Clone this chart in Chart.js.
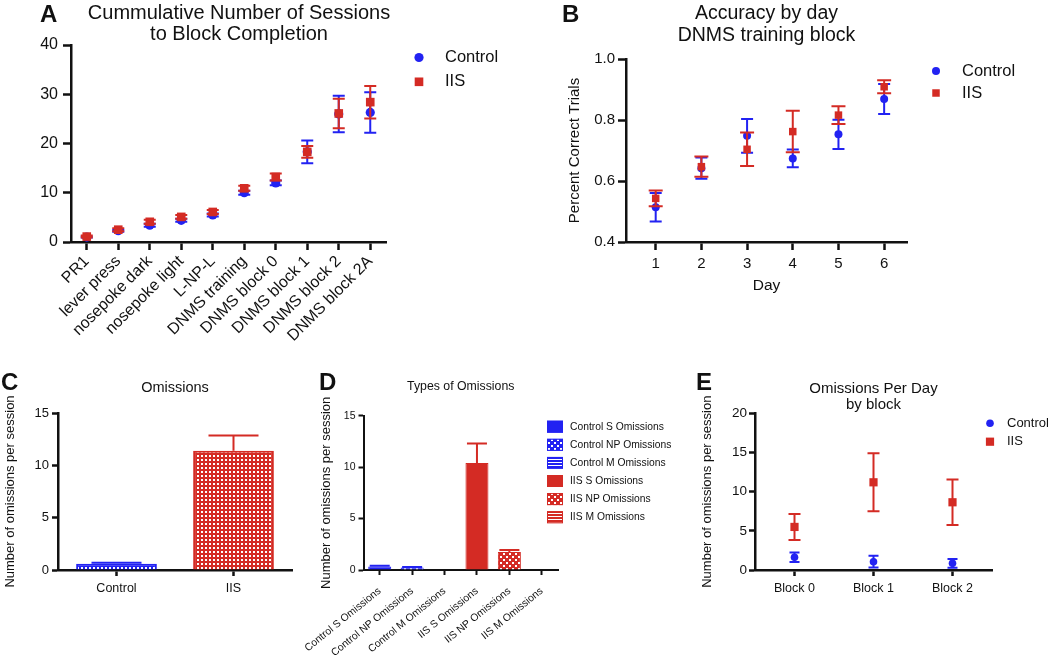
<!DOCTYPE html>
<html>
<head>
<meta charset="utf-8">
<script src="https://cdn.jsdelivr.net/npm/chart.js@4.4.1/dist/chart.umd.min.js"></script>
<style>
  html, body { margin: 0; padding: 0; background: #fff; }
  #fig { position: relative; width: 1050px; height: 657px; overflow: hidden; }
  #fig canvas { position: absolute; }
  .tag { position: absolute; font: bold 24px "Liberation Sans", Arial, sans-serif; line-height: 24px; color: #111; }
</style>
</head>
<body>
<div id="fig">
  <canvas id="chartA" width="510" height="350" style="left:0;top:0"></canvas>
  <canvas id="chartB" width="510" height="310" style="left:540px;top:0"></canvas>
  <canvas id="chartC" width="330" height="240" style="left:0;top:370px"></canvas>
  <canvas id="chartD" width="385" height="287" style="left:290px;top:370px"></canvas>
  <canvas id="chartE" width="360" height="250" style="left:690px;top:370px"></canvas>
  <div class="tag" style="left:40px;top:2px">A</div>
  <div class="tag" style="left:562px;top:2px">B</div>
  <div class="tag" style="left:1px;top:370px">C</div>
  <div class="tag" style="left:319px;top:370px">D</div>
  <div class="tag" style="left:696px;top:370px">E</div>
</div>
<script>
// A: cumulative number of sessions to block completion
var stagesA = ['PR1', 'lever press', 'nosepoke dark', 'nosepoke light', 'L-NP-L', 'DNMS training',
  'DNMS block 0', 'DNMS block 1', 'DNMS block 2', 'DNMS block 2A'];
var controlA = [1.0, 2.3, 3.4, 4.4, 5.5, 10.0, 12.0, 18.3, 26.0, 26.3];
var controlErrA = [0.1, 0.2, 0.3, 0.3, 0.3, 0.4, 0.5, 2.3, 3.7, 4.1];
var iisA = [1.1, 2.5, 4.1, 5.1, 6.1, 10.9, 13.2, 18.3, 26.1, 28.4];
var iisErrA = [0.2, 0.3, 0.4, 0.4, 0.4, 0.5, 0.7, 1.2, 3.0, 3.3];

// B: accuracy by day, DNMS training block
var days = [1, 2, 3, 4, 5, 6];
var controlB = [0.514, 0.642, 0.748, 0.674, 0.753, 0.869];
var controlErrB = [0.047, 0.035, 0.055, 0.029, 0.048, 0.049];
var iisB = [0.543, 0.647, 0.704, 0.762, 0.816, 0.909];
var iisErrB = [0.026, 0.033, 0.055, 0.068, 0.029, 0.021];

// C: omissions
var groupsC = ['Control', 'IIS'];
var omissionsC = [0.6, 11.4];
var omissionsErrC = [0.1, 1.45];

// D: types of omissions
var typesD = ['Control S Omissions', 'Control NP Omissions', 'Control M Omissions',
  'IIS S Omissions', 'IIS NP Omissions', 'IIS M Omissions'];
var omissionsD = [0.35, 0.25, 0, 10.4, 1.75, 0.05];
var omissionsErrD = [0.06, 0.04, 0, 1.9, 0.2, 0];

// E: omissions per day by block
var blocksE = ['Block 0', 'Block 1', 'Block 2'];
var controlE = [1.62, 1.06, 0.85];
var controlErrE = [0.6, 0.75, 0.55];
var iisE = [5.5, 11.2, 8.65];
var iisErrE = [1.66, 3.7, 2.9];

var FONT = '"Liberation Sans", Arial, Helvetica, sans-serif';
var INK = '#111';
var BLUE = '#2222f2';
var RED = '#d42b24';

Chart.defaults.font.family = FONT;
Chart.defaults.color = INK;
Chart.defaults.animation = false;
Chart.defaults.responsive = false;
Chart.defaults.plugins.legend.display = false;
Chart.defaults.plugins.tooltip.enabled = false;

// small fill patterns for the bars
function pattern(color, kind) {
  var c = document.createElement('canvas');
  var g = c.getContext('2d');
  if (kind === 'lines') {
    c.width = 4; c.height = 3;
    g.fillStyle = color; g.fillRect(0, 0, 4, 3);
    g.fillStyle = '#fff'; g.fillRect(0, 2, 4, 1);
  } else if (kind === 'check') {
    c.width = 6; c.height = 6;
    g.fillStyle = color; g.fillRect(0, 0, 6, 6);
    g.fillStyle = '#fff'; g.fillRect(0, 0, 2, 2); g.fillRect(3, 3, 2, 2);
  } else {
    c.width = 4; c.height = 4;
    g.fillStyle = color; g.fillRect(0, 0, 4, 4);
    g.fillStyle = '#fff'; g.fillRect(1, 1, 2, 2);
  }
  return g.createPattern(c, 'repeat');
}

// mean +/- error bars, drawn just before each dataset's own marks
var errorBars = {
  id: 'errorBars',
  beforeDatasetDraw: function (chart, args) {
    var ds = chart.data.datasets[args.index];
    if (!ds.errors) return;
    var yScale = chart.scales[args.meta.yAxisID];
    var ctx = chart.ctx;
    ctx.save();
    ctx.lineWidth = ds.errorWidth || 2;
    args.meta.data.forEach(function (el, i) {
      var raw = ds.data[i];
      var v = raw !== null && typeof raw === 'object' ? raw.y : raw;
      var e = ds.errors[i];
      if (v === null || v === undefined || !e) return;
      var hi = yScale.getPixelForValue(v + e);
      var lo = yScale.getPixelForValue(ds.upOnly ? v : v - e);
      var c = ds.capHalf || 6;
      ctx.strokeStyle = Array.isArray(ds.borderColor) ? ds.borderColor[i] : ds.borderColor;
      ctx.beginPath();
      ctx.moveTo(el.x, hi); ctx.lineTo(el.x, lo);
      ctx.moveTo(el.x - c, hi); ctx.lineTo(el.x + c, hi);
      if (!ds.upOnly) { ctx.moveTo(el.x - c, lo); ctx.lineTo(el.x + c, lo); }
      ctx.stroke();
    });
    ctx.restore();
  }
};

// legend placed freely beside the plot, like the Prism layout
var sideLegend = {
  id: 'sideLegend',
  afterDraw: function (chart, args, o) {
    if (!o || o.x === undefined) return;
    var ctx = chart.ctx;
    ctx.save();
    chart.data.datasets.forEach(function (ds, i) {
      var y = o.y + i * o.gap;
      ctx.fillStyle = ds.backgroundColor;
      if (o.box) {
        ctx.fillRect(o.x, y - o.box[1] / 2, o.box[0], o.box[1]);
        ctx.strokeStyle = ds.borderColor;
        ctx.lineWidth = 1;
        ctx.strokeRect(o.x + 0.5, y - o.box[1] / 2 + 0.5, o.box[0] - 1, o.box[1] - 1);
      } else {
        Chart.helpers.drawPoint(ctx, { pointStyle: ds.pointStyle, radius: ds.pointRadius, borderWidth: 0 }, o.x, y);
      }
      ctx.fillStyle = INK;
      ctx.font = o.size + 'px ' + FONT;
      ctx.textBaseline = 'middle';
      ctx.fillText(ds.label, o.textX, y);
    });
    ctx.restore();
  }
};

function prismAxis(size, opts) {
  var a = {
    border: { color: INK, width: 2.5 },
    grid: { drawOnChartArea: false, offset: false, tickColor: INK, tickLength: 7, tickWidth: 2.5 },
    ticks: { color: INK, font: { size: size }, padding: 4, autoSkip: false }
  };
  Object.keys(opts || {}).forEach(function (k) {
    var v = opts[k];
    a[k] = (v && typeof v === 'object' && a[k]) ? Object.assign({}, a[k], v) : v;
  });
  return a;
}

function panelTitle(lines, size, lineHeight, top, bottom) {
  return {
    display: true, fullSize: false, text: lines, color: INK,
    font: { size: size, weight: 'normal', lineHeight: lineHeight },
    padding: { top: top, bottom: bottom }
  };
}

function pointSet(label, values, errors, color, style, radius, order, cap) {
  return {
    label: label, data: values, errors: errors, capHalf: cap, order: order,
    showLine: false, clip: false,
    backgroundColor: color, borderColor: color,
    pointStyle: style, pointRadius: radius, pointBorderWidth: 0,
    pointBackgroundColor: color
  };
}

// ---- A ----
var titleA = panelTitle(['Cummulative Number of Sessions', 'to Block Completion'], 20, 1.05, 3, 0);
titleA.fullSize = true;
new Chart('chartA', {
  type: 'line',
  data: {
    labels: stagesA,
    datasets: [
      pointSet('Control', controlA, controlErrA, BLUE, 'circle', 4.6, 1, 6),
      pointSet('IIS', iisA, iisErrA, RED, 'rect', 6.1, 0, 6)
    ]
  },
  options: {
    layout: { padding: { left: 0, right: 32, top: 0, bottom: 0 } },
    plugins: {
      title: titleA,
      sideLegend: { x: 419, y: 57.5, gap: 24.3, textX: 445, size: 16.5 }
    },
    scales: {
      x: prismAxis(16, {
        offset: true,
        grid: { tickLength: 8 },
        ticks: { minRotation: 45, maxRotation: 45, padding: 2 },
        afterFit: function (s) { s.height = 108; }
      }),
      y: prismAxis(16, {
        min: 0, max: 40,
        grid: { tickLength: 8 },
        ticks: { stepSize: 10, padding: 5 },
        afterFit: function (s) { s.width = 71; }
      }),
      // empty right-hand spacer so the title centres over plot + legend
      gap: {
        position: 'right', display: true,
        grid: { display: false }, border: { display: false }, ticks: { display: false },
        afterFit: function (s) { s.width = 92; }
      }
    }
  },
  plugins: [errorBars, sideLegend]
});

// ---- B ----
new Chart('chartB', {
  type: 'scatter',
  data: {
    datasets: [
      pointSet('Control', days.map(function (d, i) { return { x: d, y: controlB[i] }; }), controlErrB, BLUE, 'circle', 4, 1, 6),
      pointSet('IIS', days.map(function (d, i) { return { x: d, y: iisB[i] }; }), iisErrB, RED, 'rect', 5.3, 0, 7)
    ]
  },
  options: {
    layout: { padding: { left: 0, right: 143, top: 0, bottom: 0 } },
    plugins: {
      title: panelTitle(['Accuracy by day', 'DNMS training block'], 19.5, 1.1, 3.3, 12.8),
      sideLegend: { x: 396, y: 71, gap: 22, textX: 422, size: 16.5 }
    },
    scales: {
      x: prismAxis(15, {
        type: 'linear', min: 0.35, max: 6.5,
        grid: { tickLength: 8 },
        ticks: { padding: 5 },
        afterBuildTicks: function (s) { s.ticks = days.map(function (d) { return { value: d }; }); },
        title: { display: true, text: 'Day', color: INK, font: { size: 15.5 }, padding: { top: 0, bottom: 15 } },
        afterFit: function (s) { s.height = 68; }
      }),
      y: prismAxis(15, {
        min: 0.4, max: 1.0,
        grid: { tickLength: 8 },
        ticks: { stepSize: 0.2, padding: 3, callback: function (v) { return v.toFixed(1); } },
        title: { display: true, text: 'Percent Correct Trials', color: INK, font: { size: 15 }, padding: { top: 26, bottom: 0 } },
        afterFit: function (s) { s.width = 86; }
      })
    }
  },
  plugins: [errorBars, sideLegend]
});

// ---- C ----
new Chart('chartC', {
  type: 'bar',
  data: {
    labels: groupsC,
    datasets: [{
      data: omissionsC, errors: omissionsErrC, upOnly: true, capHalf: 25,
      backgroundColor: [pattern(BLUE, 'dots'), pattern(RED, 'dots')],
      borderColor: [BLUE, RED], borderWidth: 2,
      barPercentage: 0.69, categoryPercentage: 1
    }]
  },
  options: {
    layout: { padding: { left: 0, right: 38, top: 0, bottom: 0 } },
    plugins: {
      title: panelTitle(['Omissions'], 14.5, 1.2, 9.5, 16.1)
    },
    scales: {
      x: prismAxis(12.5, {
        grid: { tickLength: 6 },
        ticks: { padding: 5 },
        afterFit: function (s) { s.height = 40; }
      }),
      y: prismAxis(13, {
        min: 0, max: 15,
        grid: { tickLength: 6 },
        ticks: { stepSize: 5, padding: 3 },
        title: { display: true, text: 'Number of omissions per session', color: INK, font: { size: 13 }, padding: { top: 3, bottom: 0 } },
        afterFit: function (s) { s.width = 58; }
      })
    }
  },
  plugins: [errorBars]
});

// ---- D ----
var fillsD = [BLUE, pattern(BLUE, 'check'), pattern(BLUE, 'lines'), RED, pattern(RED, 'check'), pattern(RED, 'lines')];
new Chart('chartD', {
  type: 'bar',
  data: {
    labels: typesD,
    datasets: typesD.map(function (name, i) {
      return {
        label: name,
        data: typesD.map(function (t, j) { return j === i ? omissionsD[i] : null; }),
        errors: typesD.map(function (t, j) { return j === i ? omissionsErrD[i] : 0; }),
        upOnly: true, capHalf: 10,
        backgroundColor: fillsD[i], borderColor: i < 3 ? BLUE : RED, borderWidth: 1,
        grouped: false, barPercentage: 0.71, categoryPercentage: 1
      };
    })
  },
  options: {
    layout: { padding: { left: 0, right: 117, top: 0, bottom: 0 } },
    plugins: {
      title: panelTitle(['Types of Omissions'], 12.3, 1.2, 9.6, 21.3),
      sideLegend: { x: 257, y: 56.7, gap: 18.1, textX: 280, size: 10.3, box: [16, 12] }
    },
    scales: {
      x: prismAxis(10.4, {
        grid: { tickLength: 5, tickWidth: 2 },
        border: { width: 2 },
        ticks: { minRotation: 39, maxRotation: 39, padding: 10 },
        afterFit: function (s) { s.height = 87; }
      }),
      y: prismAxis(10.5, {
        min: 0, max: 15,
        grid: { tickLength: 5, tickWidth: 2 },
        border: { width: 2 },
        ticks: { stepSize: 5, padding: 3 },
        title: { display: true, text: 'Number of omissions per session', color: INK, font: { size: 13 }, padding: { top: 28, bottom: 0 } },
        afterFit: function (s) { s.width = 73.3; }
      })
    }
  },
  plugins: [errorBars, sideLegend]
});

// ---- E ----
new Chart('chartE', {
  type: 'line',
  data: {
    labels: blocksE,
    datasets: [
      pointSet('Control', controlE, controlErrE, BLUE, 'circle', 3.8, 1, 5),
      pointSet('IIS', iisE, iisErrE, RED, 'rect', 5.8, 0, 6)
    ]
  },
  options: {
    layout: { padding: { left: 0, right: 58, top: 0, bottom: 0 } },
    plugins: {
      title: panelTitle(['Omissions Per Day', 'by block'], 15, 1.07, 11, 0.3),
      sideLegend: { x: 300, y: 53.3, gap: 18.4, textX: 317, size: 13 }
    },
    scales: {
      x: prismAxis(12.5, {
        offset: true,
        grid: { tickLength: 6 },
        ticks: { padding: 5 },
        afterFit: function (s) { s.height = 50; }
      }),
      y: prismAxis(13.5, {
        min: 0, max: 20,
        grid: { tickLength: 6 },
        ticks: { stepSize: 5, padding: 2 },
        title: { display: true, text: 'Number of omissions per session', color: INK, font: { size: 13 }, padding: { top: 10, bottom: 0 } },
        afterFit: function (s) { s.width = 65; }
      })
    }
  },
  plugins: [errorBars, sideLegend]
});
</script>
</body>
</html>
